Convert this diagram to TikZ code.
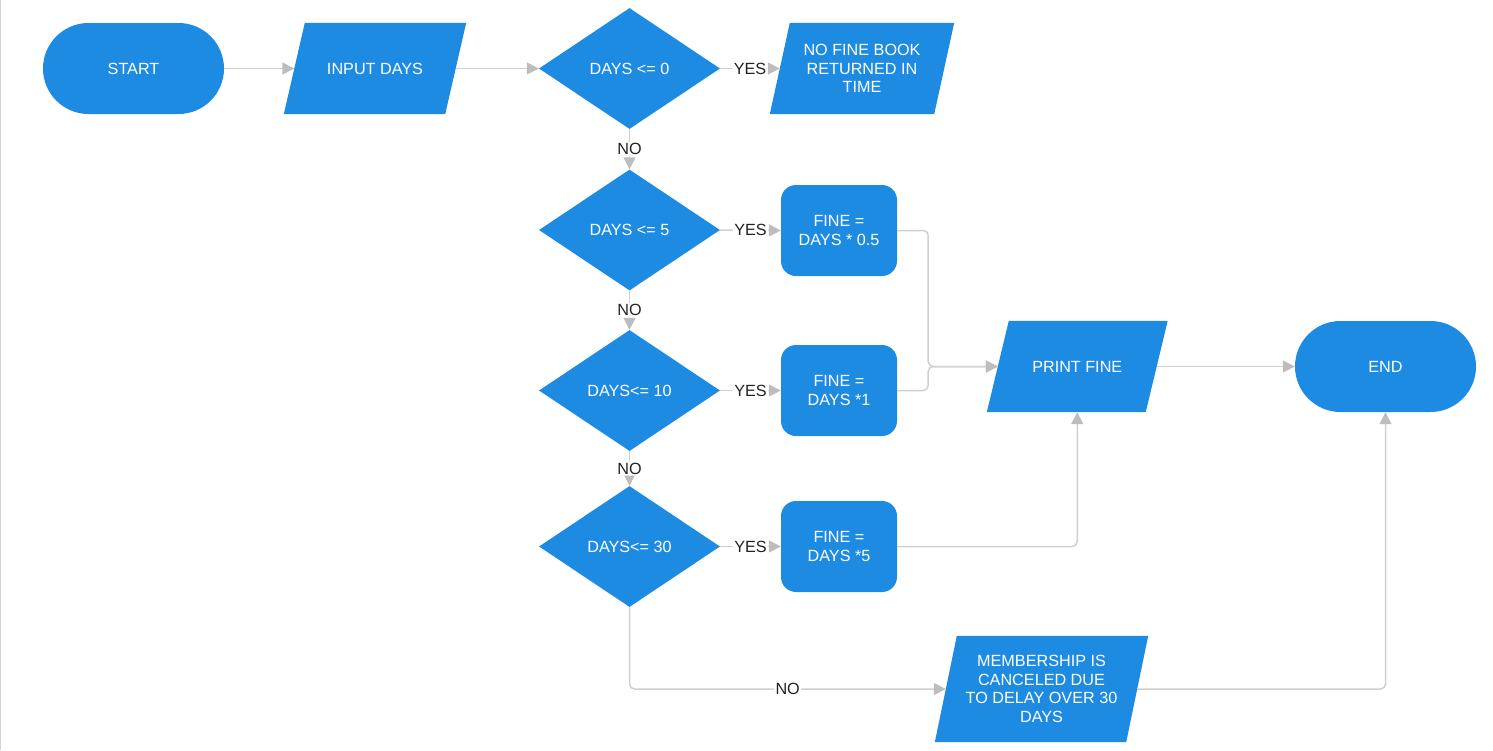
\documentclass[tikz,border=0pt]{standalone}
\usepackage{fontspec}
\setmainfont{Liberation Sans}
\usetikzlibrary{shapes.geometric,arrows.meta,backgrounds}
\definecolor{flowblue}{HTML}{1E8BE3}
\definecolor{linegray}{HTML}{D0D0D0}
\definecolor{tipgray}{HTML}{BDBDBD}
\definecolor{labeltext}{HTML}{222222}
\definecolor{framegray}{HTML}{D5D5D5}

% filled parallelogram around a rectangular node: #1 node name, #2 half of the slant offset
\newcommand\slantfill[2]{%
  \fill[flowblue] ([xshift=#2]#1.north west) -- ([xshift=#2]#1.north east)
    -- ([xshift=-#2]#1.south east) -- ([xshift=-#2]#1.south west) -- cycle;}

\begin{document}
\begin{tikzpicture}[x=1pt,y=-1pt,
  every node/.style={font=\fontsize{16.2}{18.8}\selectfont, text=white, align=center, inner sep=0pt},
  terminal/.style={rectangle, rounded corners=45.5pt, fill=flowblue, minimum width=181pt, minimum height=91pt},
  decision/.style={diamond, fill=flowblue, minimum width=181pt, minimum height=121pt},
  process/.style={rectangle, rounded corners=15pt, fill=flowblue, minimum width=116pt, minimum height=91pt},
  iobox/.style={rectangle, minimum height=91pt},
  link/.style={draw=linegray, line width=1.5pt, rounded corners=5pt,
    -{Triangle[length=12pt,width=12pt,color=tipgray]}},
  answer/.style={fill=white, text=labeltext, inner sep=1.5pt},
]
\useasboundingbox (0,0) rectangle (1493,750);
\draw[framegray, line width=1pt] (0.5,0) -- (0.5,750);

% nodes
\node[terminal] (start) at (133.5,68.5) {START};
\node[iobox, minimum width=161pt] (inp) at (375,68.5) {INPUT DAYS};
\node[decision] (d1) at (629.5,68.5) {DAYS <= 0};
\node[iobox, minimum width=164pt] (nofine) at (862,68.5) {NO FINE BOOK\\RETURNED IN\\TIME};
\node[decision] (d2) at (629.5,230) {DAYS <= 5};
\node[process] (f1) at (839,230.5) {FINE =\\DAYS * 0.5};
\node[decision] (d3) at (629.5,390.5) {DAYS<= 10};
\node[process] (f2) at (839,390.5) {FINE =\\DAYS *1};
\node[decision] (d4) at (629.5,546.5) {DAYS<= 30};
\node[process] (f3) at (839,546.5) {FINE =\\DAYS *5};
\node[iobox, minimum width=158.5pt] (print) at (1077.25,366.5) {PRINT FINE};
\node[terminal] (end) at (1385.5,366.5) {END};
\node[iobox, minimum width=191pt, minimum height=106pt] (mem) at (1041.5,689)
  {MEMBERSHIP IS\\CANCELED DUE\\TO DELAY OVER 30\\DAYS};

% slanted input/output boxes
\begin{scope}[on background layer]
  \slantfill{inp}{10.5}
  \slantfill{nofine}{10}
  \slantfill{print}{11}
  \slantfill{mem}{11}
\end{scope}

% connectors
\draw[link] (start.east) -- (inp.west);
\draw[link] (inp.east) -- (d1.west);
\draw[link] (d1.east) -- (nofine.west) node[answer, midway] {YES};
\draw[link] (d1.south) -- (d2.north) node[answer, midway] {NO};
\draw[link] (d2.east) -- (f1.west) node[answer, midway] {YES};
\draw[link] (d2.south) -- (d3.north) node[answer, midway] {NO};
\draw[link] (d3.east) -- (f2.west) node[answer, midway] {YES};
\draw[link] (d3.south) -- (d4.north) node[answer, midway] {NO};
\draw[link] (d4.east) -- (f3.west) node[answer, midway] {YES};
\draw[link] (d4.south) |- (mem.west) node[answer, pos=0.75] {NO};
\draw[link] (f1.east) -- ++(31,0) |- (print.west);
\draw[link] (f2.east) -- ++(31,0) |- (print.west);
\draw[link] (f3.east) -| (print.south);
\draw[link] (print.east) -- (end.west);
\draw[link] (mem.east) -| (end.south);
\end{tikzpicture}
\end{document}
